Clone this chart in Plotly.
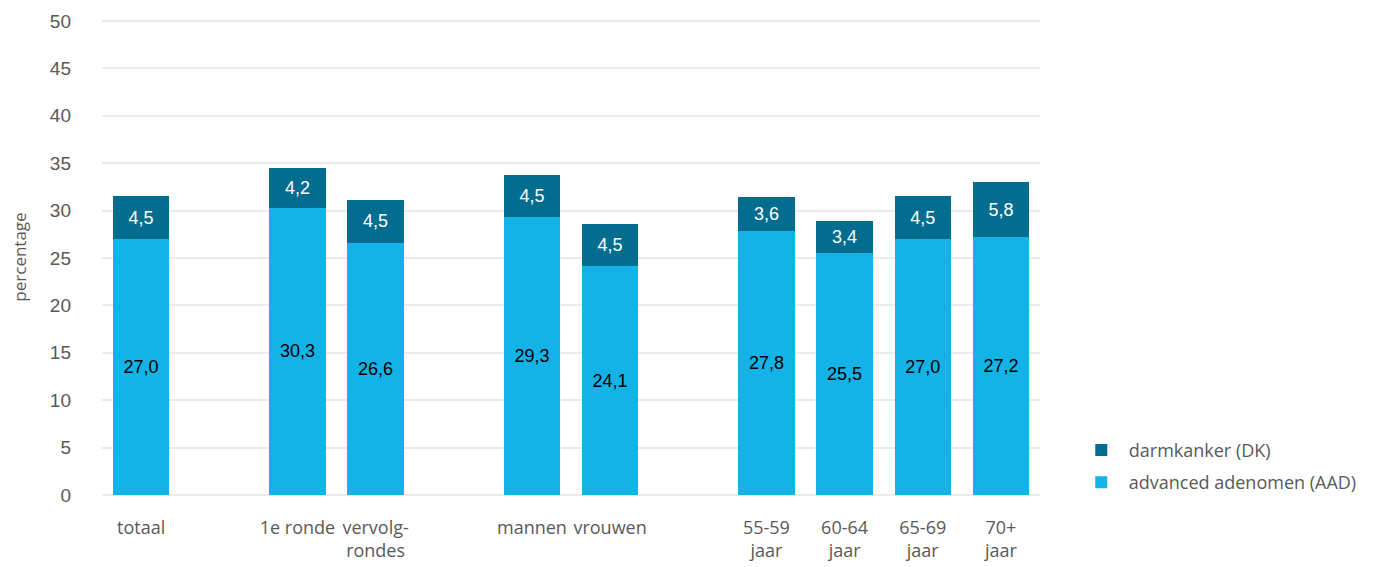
import plotly.graph_objects as go

# categorieën (lege strings zijn tussenruimtes tussen de groepen)
categories = ["totaal", " ", "1e ronde", "vervolg-<br>rondes", "  ",
              "mannen", "vrouwen", "   ",
              "55-59<br>jaar", "60-64<br>jaar", "65-69<br>jaar", "70+<br>jaar"]
aad = [27.0, None, 30.3, 26.6, None, 29.3, 24.1, None, 27.8, 25.5, 27.0, 27.2]
dk = [4.5, None, 4.2, 4.5, None, 4.5, 4.5, None, 3.6, 3.4, 4.5, 5.8]

LIGHT = "#13B3E8"
DARK = "#036D8F"
LABEL_FONT = "Open Sans, Noto Sans"

fig = go.Figure()

# advanced adenomen (onderste deel)
fig.add_trace(go.Bar(
    x=categories, y=aad,
    name="advanced adenomen (AAD)",
    legendgroup="aad",
    legendrank=2,
    marker=dict(color=LIGHT, line=dict(width=0)),
    texttemplate="%{y:.1f}",
    textposition="inside",
    insidetextanchor="middle",
    textfont=dict(family="Liberation Sans, Arial", size=18, color="#000000"),
))

# darmkanker (bovenste deel)
fig.add_trace(go.Bar(
    x=categories, y=dk,
    name="darmkanker (DK)",
    legendgroup="dk",
    legendrank=1,
    marker=dict(color=DARK, line=dict(width=0)),
    texttemplate="%{y:.1f}",
    textposition="inside",
    insidetextanchor="middle",
    textfont=dict(family="Liberation Sans, Arial", size=18, color="#FFFFFF"),
))

fig.update_layout(
    barmode="stack",
    bargap=0.28,
    separators=",.",
    width=1381, height=567,
    paper_bgcolor="white",
    plot_bgcolor="white",
    margin=dict(l=94, r=349, t=11, b=80, autoexpand=False),
    font=dict(family=LABEL_FONT, color="#595959"),
    uniformtext=dict(mode="show", minsize=10),
    legend=dict(
        traceorder="grouped",
        x=1.036, xanchor="left",
        y=-0.012, yanchor="bottom",
        font=dict(family=LABEL_FONT, size=18, color="#595959"),
        itemwidth=45,
        tracegroupgap=6,
    ),
    xaxis=dict(
        type="category",
        categoryorder="array",
        categoryarray=categories,
        showgrid=False,
        showline=False,
        automargin=False,
        tickfont=dict(family=LABEL_FONT, size=18, color="#595959"),
        ticklabelstandoff=20,
    ),
    yaxis=dict(
        range=[0, 50.2],
        dtick=5,
        showgrid=True,
        gridcolor="#EBEBEB",
        gridwidth=1.5,
        zeroline=True,
        zerolinecolor="#EBEBEB",
        zerolinewidth=1.5,
        automargin=False,
        tickfont=dict(family="Liberation Sans, Arial", size=19, color="#595959"),
        ticklabelstandoff=30,
        title=dict(text="percentage", standoff=24,
                   font=dict(family=LABEL_FONT, size=17, color="#595959")),
    ),
)

fig.write_html("out.html")
